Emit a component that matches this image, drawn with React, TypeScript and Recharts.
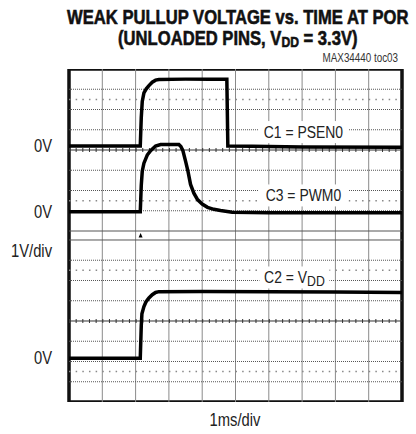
import React from 'react';
import { LineChart, Line, XAxis, YAxis, ReferenceLine, ReferenceArea, ReferenceDot } from 'recharts';

// time in ms, volts per trace
const c1Time = [0, 2.14, 2.17, 2.2, 2.25, 2.32, 2.4, 2.5, 2.6, 2.7, 3.5, 4.2, 4.74, 4.77, 5.5, 7, 10];
const c1Volts = [0, 0, 1.4, 2.2, 2.62, 2.82, 2.98, 3.15, 3.25, 3.28, 3.3, 3.3, 3.3, 0, -0.02, -0.05, -0.07];

const c3Time = [0, 2.14, 2.17, 2.2, 2.25, 2.35, 2.45, 2.6, 2.75, 3.3, 3.36, 3.42, 3.5, 3.57, 3.65, 3.75, 3.86, 4.0, 4.16, 4.35, 4.55, 4.9, 6, 8, 10];
const c3Volts = [0, 0, 1.3, 2.0, 2.4, 2.8, 3.02, 3.25, 3.32, 3.32, 3.22, 3.02, 2.5, 2.02, 1.35, 0.92, 0.6, 0.38, 0.22, 0.12, 0.06, -0.02, -0.05, -0.05, -0.05];

const c2Time = [0, 2.14, 2.17, 2.19, 2.25, 2.31, 2.4, 2.5, 2.6, 2.7, 4, 6, 8, 10];
const c2Volts = [0, 0, 1.6, 2.2, 2.55, 2.78, 2.98, 3.14, 3.25, 3.29, 3.3, 3.29, 3.27, 3.25];

// screen layout in divisions (1V/div, 1ms/div)
const paneDivs = 8;
const stripDivs = 0.444;
const topBase = paneDivs + stripDivs;
const yMax = topBase + paneDivs;
const c1Offset = topBase + 4.2;
const c3Offset = topBase + 0.95;
const c2Offset = 2.16;
const triggerTime = 2.15;

const timeGrid = [1, 2, 3, 4, 5, 6, 7, 8, 9];
const voltGrid = [1, 2, 3, 5, 6, 7];
const minorGrid = [1.5, 6.5];

const leftLabels = ['0V', '1V/div', '0V', '0V'];
const leftLevels = [c2Offset, 7.48, c3Offset, c1Offset];

const traceLabels = [
  { t: 7.04, y: 13.33, text: 'C1 = PSEN0', sub: '', w: 90 },
  { t: 7.04, y: 10.2, text: 'C3 = PWM0', sub: '', w: 90 },
  { t: 6.77, y: 6.15, text: 'C2 = V', sub: 'DD', w: 70 },
];

const toRows = (ts: number[], vs: number[], off: number) => ts.map((t, i) => ({ t, v: vs[i] + off }));
const c1Data = toRows(c1Time, c1Volts, c1Offset);
const c3Data = toRows(c3Time, c3Volts, c3Offset);
const c2Data = toRows(c2Time, c2Volts, c2Offset);

const font = "'Liberation Sans', Arial, sans-serif";
const squeeze = 0.82;

const LeftTick = (props: any) => {
  const { x, y, payload, index } = props;
  return (
    <text
      transform={`translate(${x} ${y + 6}) scale(${squeeze} 1)`}
      textAnchor="end"
      fontSize={18}
      fontFamily={font}
      fill="#222"
    >
      {leftLabels[index] ?? payload.value}
    </text>
  );
};

const makeLabel = (text: string, sub: string, w: number) => (props: any) => {
  const { cx, cy } = props;
  return (
    <g>
      <rect x={cx - w / 2} y={cy - 11} width={w} height={22} fill="#fff" />
      <text
        transform={`translate(${cx} ${cy + 6}) scale(${squeeze} 1)`}
        textAnchor="middle"
        fontSize={17}
        fontFamily={font}
        fill="#222"
      >
        {text}
        {sub && (
          <tspan fontSize={15} dy={3}>
            {sub}
          </tspan>
        )}
      </text>
    </g>
  );
};

const Trigger = (props: any) => {
  const { cx, cy } = props;
  return <path d={`M${cx},${cy - 2.5} L${cx + 2},${cy + 2} L${cx - 2},${cy + 2} Z`} fill="#000" />;
};

const squeezeStyle = (origin: string, k = squeeze): React.CSSProperties => ({
  display: 'inline-block',
  whiteSpace: 'nowrap',
  transform: `scaleX(${k})`,
  transformOrigin: origin,
});

export default function App() {
  const bases = [0, topBase];
  return (
    <div style={{ position: 'absolute', left: 0, top: 0, width: 416, height: 434, background: '#fff' }}>
      <div
        style={{
          position: 'absolute',
          left: 0,
          top: 7,
          width: 476,
          textAlign: 'center',
          fontFamily: font,
          fontWeight: 700,
          fontSize: 20.5,
          lineHeight: '20px',
          color: '#111',
          WebkitTextStroke: '0.6px #111',
        }}
      >
        <div style={{ height: 20 }}>
          <span style={squeezeStyle('center', 0.81)}>WEAK PULLUP VOLTAGE vs. TIME AT POR</span>
        </div>
        <div style={{ height: 20, marginTop: 1 }}>
          <span style={squeezeStyle('center', 0.81)}>
            (UNLOADED PINS, V<span style={{ fontSize: 15, position: 'relative', top: 2 }}>DD</span> = 3.3V)
          </span>
        </div>
      </div>
      <div
        style={{
          position: 'absolute',
          right: 18,
          top: 52,
          fontFamily: font,
          fontSize: 12,
          lineHeight: '12px',
          color: '#333',
        }}
      >
        <span style={squeezeStyle('right')}>MAX34440 toc03</span>
      </div>
      <div style={{ position: 'absolute', left: 0, top: 69 }}>
        <LineChart width={416} height={333} margin={{ top: 0, right: 14, bottom: 0, left: 0 }}>
          <XAxis type="number" dataKey="t" domain={[0, 10]} hide />
          <YAxis
            type="number"
            domain={[0, yMax]}
            ticks={leftLevels}
            width={69}
            axisLine={false}
            tickLine={false}
            tickSize={0}
            tickMargin={17}
            tick={<LeftTick />}
            interval={0}
          />
          {timeGrid.map((t) => (
            <ReferenceLine key={`vt${t}`} x={t} stroke="#8a8a8a" strokeWidth={1} />
          ))}
          {bases.map((b) =>
            voltGrid.map((v) => (
              <ReferenceLine key={`h${b}-${v}`} y={b + v} stroke="#555" strokeWidth={1} strokeDasharray="1 1" />
            ))
          )}
          {bases.map((b) =>
            minorGrid.map((v) => (
              <ReferenceLine key={`m${b}-${v}`} y={b + v} stroke="#888" strokeWidth={1.5} strokeDasharray="1.5 5.16" />
            ))
          )}
          {bases.map((b) => (
            <ReferenceLine key={`c${b}`} y={b + 4} stroke="#333" strokeWidth={1} />
          ))}
          {bases.map((b) => (
            <ReferenceLine key={`ct${b}`} y={b + 4} stroke="#333" strokeWidth={4} strokeDasharray="1 5.66" />
          ))}
          <ReferenceLine y={paneDivs} stroke="#555" strokeWidth={1} />
          <ReferenceLine y={topBase} stroke="#555" strokeWidth={1} />
          <ReferenceDot x={triggerTime} y={paneDivs + stripDivs / 2} r={2} shape={<Trigger />} />
          {traceLabels.map((l) => (
            <ReferenceDot key={l.text} x={l.t} y={l.y} r={1} shape={makeLabel(l.text, l.sub, l.w)} />
          ))}
          <Line data={c1Data} dataKey="v" type="linear" stroke="#000" strokeWidth={3.5} dot={false} isAnimationActive={false} />
          <Line data={c3Data} dataKey="v" type="linear" stroke="#000" strokeWidth={3.5} dot={false} isAnimationActive={false} />
          <Line data={c2Data} dataKey="v" type="linear" stroke="#000" strokeWidth={3.5} dot={false} isAnimationActive={false} />
          <ReferenceArea x1={0} x2={10} y1={0} y2={yMax} fill="none" stroke="#111" strokeWidth={3.5} />
        </LineChart>
      </div>
      <div
        style={{
          position: 'absolute',
          left: 69,
          width: 333,
          top: 410,
          textAlign: 'center',
          fontFamily: font,
          fontSize: 18,
          lineHeight: '20px',
          color: '#222',
        }}
      >
        <span style={squeezeStyle('center')}>1ms/div</span>
      </div>
    </div>
  );
}
